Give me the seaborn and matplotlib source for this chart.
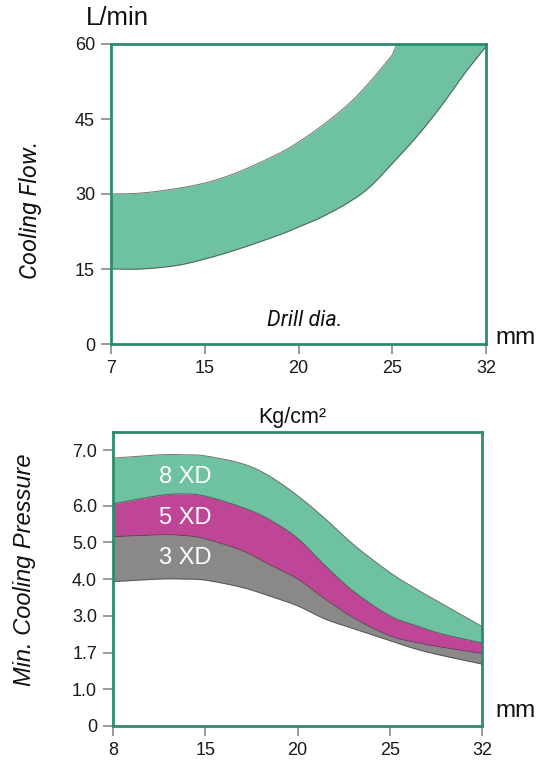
import numpy as np
import pandas as pd
import matplotlib
matplotlib.use("Agg")
import matplotlib.pyplot as plt
import seaborn as sns

# ---------------- data ----------------
# top chart: cooling flow (L/min) vs drill diameter (mm)
flow_ticks_mm = [7, 15, 20, 25, 32]
flow_yticks = [0, 15, 30, 45, 60]
flow_upper_mm = [7, 9.6, 12.6, 15, 16.3, 17.6, 19.1, 20, 21.3, 22.7, 23.8, 25, 25.35, 32]
flow_upper = [30, 30.2, 31.1, 32.2, 33.7, 35.7, 38.4, 40.4, 43.8, 48.1, 52.4, 57.8, 60, 60]
flow_lower_mm = [7, 9.6, 12.6, 15, 16.3, 17.6, 19.1, 20, 21.3, 22.7, 23.8, 25, 26.8, 28.6, 30.4, 32]
flow_lower = [15, 15.0, 15.7, 17.0, 18.4, 20.0, 22.0, 23.4, 25.5, 28.4, 31.4, 36.1, 41.4, 47.4, 54.1, 59.5]

# bottom chart: min cooling pressure (Kg/cm2) vs drill diameter (mm)
pres_ticks_mm = [8, 15, 20, 25, 32]
pres_ytick_vals = [0, 1.0, 1.7, 3.0, 4.0, 5.0, 6.0, 7.0]
pres_ytick_labels = ["0", "1.0", "1.7", "3.0", "4.0", "5.0", "6.0", "7.0"]
pres_mm = [8, 11.5, 13.4, 15, 17, 18.4, 20, 21.5, 23.1, 25, 27, 29, 32]
xd8_top = [6.86, 6.92, 6.92, 6.90, 6.76, 6.55, 6.18, 5.64, 4.91, 4.18, 3.73, 3.32, 2.62]
xd8_bot = [6.03, 6.18, 6.21, 6.17, 5.95, 5.64, 5.11, 4.36, 3.64, 3.00, 2.65, 2.35, 2.04]
xd5_bot = [5.15, 5.20, 5.18, 5.09, 4.77, 4.41, 4.00, 3.45, 2.90, 2.29, 2.05, 1.88, 1.68]
xd3_bot = [3.93, 4.00, 4.00, 3.97, 3.77, 3.55, 3.27, 2.88, 2.53, 2.12, 1.82, 1.64, 1.48]
band_labels = ["8 XD", "5 XD", "3 XD"]
band_label_y = [6.51, 5.65, 4.57]
band_label_mm = 13.5

# ---------------- style ----------------
sns.set_theme(style="ticks")
plt.rcParams["font.family"] = ["Liberation Sans", "DejaVu Sans"]

GREEN = "#6fc29f"
MAGENTA = "#bf4697"
GREY = "#8a8987"
SPINE = "#2b8c6d"
EDGE = "#3a3a3a"
TICKC = "#9a9a9a"

W, H = 553, 760
fig = plt.figure(figsize=(W / 100, H / 100), dpi=100)


def fx(px):
    return px / W


def fy(py):
    return 1 - py / H


def smooth(x, y, n=12):
    """Catmull-Rom rendering of a polyline through the read points (display only)."""
    x = np.asarray(x, float)
    y = np.asarray(y, float)
    px = np.concatenate([[2 * x[0] - x[1]], x, [2 * x[-1] - x[-2]]])
    py = np.concatenate([[2 * y[0] - y[1]], y, [2 * y[-1] - y[-2]]])
    ox, oy = [], []
    t = np.linspace(0, 1, n, endpoint=False)
    for i in range(1, len(px) - 2):
        p0, p1, p2, p3 = px[i - 1], px[i], px[i + 1], px[i + 2]
        q0, q1, q2, q3 = py[i - 1], py[i], py[i + 1], py[i + 2]
        for arr, a0, a1, a2, a3 in ((ox, p0, p1, p2, p3), (oy, q0, q1, q2, q3)):
            arr.extend(0.5 * ((2 * a1) + (-a0 + a2) * t + (2 * a0 - 5 * a1 + 4 * a2 - a3) * t ** 2
                              + (-a0 + 3 * a1 - 3 * a2 + a3) * t ** 3))
    ox.append(x[-1])
    oy.append(y[-1])
    return np.array(ox), np.array(oy)


def style_axes(ax):
    for s in ax.spines.values():
        s.set_visible(True)
        s.set_color(SPINE)
        s.set_linewidth(2.0)
    ax.tick_params(axis="both", direction="out", length=7, width=1.4, bottom=True, left=True,
                   color=TICKC, labelsize=13, labelcolor="#1a1a1a", pad=4.5)
    ax.set_xlabel("")
    ax.set_ylabel("")


# ---------------- top chart ----------------
ax1 = fig.add_axes([fx(111), fy(344), fx(486 - 111), (344 - 44) / H])
fpos = list(range(len(flow_ticks_mm)))
xu = np.interp(flow_upper_mm, flow_ticks_mm, fpos)
xl = np.interp(flow_lower_mm, flow_ticks_mm, fpos)
# rising part is smoothed, the capped part (at the axis top) stays straight
sxu, syu = smooth(xu[:-2], flow_upper[:-2])
sxu = np.concatenate([sxu, xu[-2:]])
syu = np.concatenate([syu, flow_upper[-2:]])
sxl, syl = smooth(xl, flow_lower)
xs = np.union1d(sxu, sxl)
yu = np.interp(xs, sxu, syu)
yl = np.interp(xs, sxl, syl)
ax1.fill_between(xs, yl, yu, color=GREEN, lw=0, zorder=1)
sns.lineplot(x=sxu, y=syu, ax=ax1, color=EDGE, lw=0.7, alpha=0.7, sort=False, zorder=2)
sns.lineplot(x=sxl, y=syl, ax=ax1, color=EDGE, lw=0.7, alpha=0.7, sort=False, zorder=2)
ax1.set_xlim(0, len(flow_ticks_mm) - 1)
ax1.set_ylim(0, 60)
ax1.set_xticks(fpos)
ax1.set_xticklabels([str(v) for v in flow_ticks_mm])
ax1.set_yticks(flow_yticks)
ax1.set_yticklabels([str(v) for v in flow_yticks])
style_axes(ax1)

# ---------------- bottom chart ----------------
ax2 = fig.add_axes([fx(113), fy(726), fx(482 - 113), (726 - 432) / H])
ppos = list(range(len(pres_ticks_mm)))
ytick_pos = [0, 1, 2, 3, 4, 5, 6, 7.5]


def ymap(v):
    return np.interp(v, pres_ytick_vals, ytick_pos)


xp = np.interp(pres_mm, pres_ticks_mm, ppos)
curves = [smooth(xp, ymap(c)) for c in (xd8_top, xd8_bot, xd5_bot, xd3_bot)]
sx = curves[0][0]
b0, b1, b2, b3 = [c[1] for c in curves]
ax2.fill_between(sx, b1, b0, color=GREEN, lw=0, zorder=1)
ax2.fill_between(sx, b2, b1, color=MAGENTA, lw=0, zorder=1)
ax2.fill_between(sx, b3, b2, color=GREY, lw=0, zorder=1)
for b in (b0, b1, b2, b3):
    sns.lineplot(x=sx, y=b, ax=ax2, color=EDGE, lw=0.7, alpha=0.7, sort=False, zorder=2)
lx = np.interp(band_label_mm, pres_ticks_mm, ppos)
for lab, ly in zip(band_labels, band_label_y):
    ax2.text(lx, ymap(ly), lab, color="white", fontsize=17, ha="center", va="center", zorder=3)
ax2.set_xlim(0, len(pres_ticks_mm) - 1)
ax2.set_ylim(0, 8.0)
ax2.set_xticks(ppos)
ax2.set_xticklabels([str(v) for v in pres_ticks_mm])
ax2.set_yticks(ytick_pos)
ax2.set_yticklabels(pres_ytick_labels)
style_axes(ax2)

# ---------------- annotations ----------------
fig.text(fx(117), fy(18), "L/min", fontsize=18.5, ha="center", va="center", color="#111")
fig.text(fx(516), fy(338), "mm", fontsize=17.5, ha="center", va="center", color="#111")
fig.text(fx(516), fy(711), "mm", fontsize=17.5, ha="center", va="center", color="#111")
fig.text(fx(292), fy(417), "Kg/cm²", fontsize=15.5, ha="center", va="center", color="#111")
fig.text(fx(30), fy(210), "Cooling Flow.", fontsize=17, ha="center", va="center",
         rotation=90, style="italic", family=["Roboto", "DejaVu Sans"], color="#111")
fig.text(fx(305), fy(321), "Drill dia.", fontsize=15.5, ha="center", va="center",
         style="italic", family=["Roboto", "DejaVu Sans"], color="#111")
fig.text(fx(25), fy(570), "Min. Cooling Pressure", fontsize=17, ha="center", va="center",
         rotation=90, style="italic", color="#111")

fig.savefig("out.png", dpi=100)
